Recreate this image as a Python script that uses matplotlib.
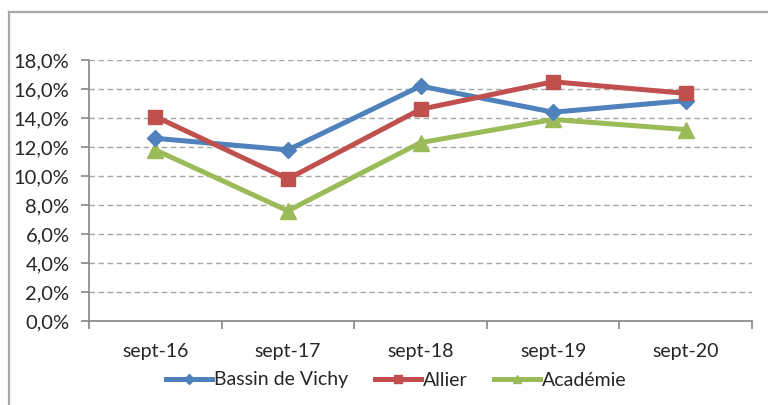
import matplotlib
matplotlib.use("Agg")
import matplotlib.pyplot as plt
from matplotlib.lines import Line2D
from matplotlib.ticker import FuncFormatter

# --- DATA ---
periods = ['sept-16', 'sept-17', 'sept-18', 'sept-19', 'sept-20']
vichy = [12.6, 11.8, 16.2, 14.4, 15.2]
allier = [14.1, 9.8, 14.6, 16.5, 15.7]
academie = [11.8, 7.6, 12.3, 13.9, 13.2]

plt.rcParams['font.family'] = ['Lato', 'DejaVu Sans']
plt.rcParams['text.color'] = '#262626'

fig = plt.figure(figsize=(7.68, 4.05), dpi=100)
ax = fig.add_axes([89 / 768, 1 - 321 / 405, (752 - 89) / 768, (321 - 60) / 405])

x = range(len(periods))
ax.plot(x, vichy, color='#4F81BD', lw=3.6, marker='D', ms=8.5, label='Bassin de Vichy', zorder=3)
ax.plot(x, allier, color='#C0504D', lw=3.6, marker='s', ms=10.5, label='Allier', zorder=4)
ax.plot(x, academie, color='#9BBB59', lw=3.6, marker='^', ms=11, label='Académie', zorder=2)

ax.set_xlim(-0.5, len(periods) - 0.5)
ax.set_ylim(0, 18)
ax.set_yticks(range(0, 19, 2))
ax.yaxis.set_major_formatter(FuncFormatter(lambda v, p: f"{v:.1f}%".replace('.', ',')))

# category labels centred, tick marks on the boundaries
ax.set_xticks([i - 0.5 for i in range(len(periods) + 1)])
ax.set_xticklabels([])
ax.set_xticks(list(x), minor=True)
ax.set_xticklabels(periods, minor=True)
ax.tick_params(axis='x', which='minor', length=0, pad=16, labelsize=14, labelcolor='#262626')
ax.tick_params(axis='x', which='major', length=5.5, color='#868686', width=1.2)
ax.tick_params(axis='y', length=6, color='#868686', width=1.2, labelsize=14.5, pad=8,
               labelcolor='#262626')

ax.grid(axis='y', linestyle=(0, (4, 2.5)), color='#A6A6A6', lw=1)
ax.set_axisbelow(True)
for s in ['top', 'right']:
    ax.spines[s].set_visible(False)
for s in ['left', 'bottom']:
    ax.spines[s].set_color('#868686')
    ax.spines[s].set_linewidth(1.2)

fig.legend(loc='center', bbox_to_anchor=(0.516, 1 - 380 / 405), ncol=3, frameon=False,
           fontsize=14, handlelength=2.35, handletextpad=0.1, columnspacing=1.4, markerscale=0.55)

# outer chart border (left and top)
fig.add_artist(Line2D([8.5 / 768, 8.5 / 768], [0, 1 - 11.5 / 405], color='#A6A6A6', lw=1.6,
                      transform=fig.transFigure))
fig.add_artist(Line2D([8.5 / 768, 1], [1 - 11.5 / 405, 1 - 11.5 / 405], color='#A6A6A6', lw=1.6,
                      transform=fig.transFigure))

fig.savefig('out.png', dpi=100)
